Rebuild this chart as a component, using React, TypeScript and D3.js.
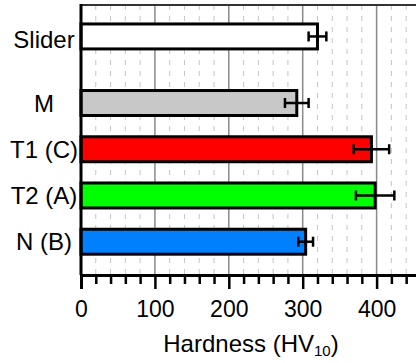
import { useEffect, useRef } from "react";
import * as d3 from "d3";

// hardness per sample, top to bottom as drawn
const samples = ["Slider", "M", "T1 (C)", "T2 (A)", "N (B)"];
const hardness = [320, 292, 393, 398, 304];
const errors = [12, 16, 24, 26, 10];
// vertical slot of each bar (Slider sits a bit apart from the rest)
const slots = [5.44, 4, 3, 2, 1];
const labelSlots = [5.38, 4, 3, 2, 1];
const fills = ["#ffffff", "#c8c8c8", "#ff0000", "#00ff00", "#0080ff"];
const majorTicks = [0, 100, 200, 300, 400];

const W = 416;
const H = 363;

export default function App() {
  const svgRef = useRef<SVGSVGElement>(null);

  useEffect(() => {
    const svg = d3.select(svgRef.current);
    svg.selectAll("*").remove();

    const left = 81;
    const top = 5;
    const bottom = 275;

    const x = d3.scaleLinear().domain([0, 460]).range([left, left + 460 * 0.739]);
    const y = d3.scaleLinear().domain([0.28, 6.12]).range([bottom, top]);
    const barH = y(0) - y(0.54);
    const font = "'Liberation Sans', Arial, sans-serif";

    const minor = d3.range(20, 460, 20).filter((v) => v % 100 !== 0);

    // minor dashed grid
    svg.append("g")
      .selectAll("line")
      .data(minor)
      .join("line")
      .attr("x1", (d) => x(d))
      .attr("x2", (d) => x(d))
      .attr("y1", top)
      .attr("y2", bottom)
      .attr("stroke", "#c4c4c4")
      .attr("stroke-width", 1)
      .attr("stroke-dasharray", "5,6");

    // major grid
    svg.append("g")
      .selectAll("line")
      .data(majorTicks.filter((v) => v > 0))
      .join("line")
      .attr("x1", (d) => x(d))
      .attr("x2", (d) => x(d))
      .attr("y1", top)
      .attr("y2", bottom)
      .attr("stroke", "#8a8a8a")
      .attr("stroke-width", 1.5);

    // top frame
    svg.append("line")
      .attr("x1", left)
      .attr("x2", W)
      .attr("y1", top)
      .attr("y2", top)
      .attr("stroke", "#333")
      .attr("stroke-width", 2);

    // bars
    svg.append("g")
      .selectAll("rect")
      .data(samples)
      .join("rect")
      .attr("x", x(0))
      .attr("y", (_, i) => y(slots[i]) - barH / 2)
      .attr("width", (_, i) => x(hardness[i]) - x(0))
      .attr("height", barH)
      .attr("fill", (_, i) => fills[i])
      .attr("stroke", "#000")
      .attr("stroke-width", 3);

    // error bars
    const eb = svg.append("g").attr("stroke", "#000").attr("stroke-width", 2.5);
    samples.forEach((_, i) => {
      const cy = y(slots[i]);
      const lo = x(hardness[i] - errors[i]);
      const hi = x(hardness[i] + errors[i]);
      eb.append("line").attr("x1", lo).attr("x2", hi).attr("y1", cy).attr("y2", cy);
      eb.append("line").attr("x1", lo).attr("x2", lo).attr("y1", cy - 5).attr("y2", cy + 5);
      eb.append("line").attr("x1", hi).attr("x2", hi).attr("y1", cy - 5).attr("y2", cy + 5);
    });

    // category labels (centred in the left margin)
    svg.append("g")
      .selectAll("text")
      .data(samples)
      .join("text")
      .attr("x", 44)
      .attr("y", (_, i) => y(labelSlots[i]) + 8.6)
      .attr("text-anchor", "middle")
      .attr("font-family", font)
      .attr("font-size", 24)
      .attr("fill", "#000")
      .text((d) => d);

    // left axis line
    svg.append("line")
      .attr("x1", left)
      .attr("x2", left)
      .attr("y1", top - 1)
      .attr("y2", bottom)
      .attr("stroke", "#000")
      .attr("stroke-width", 3);

    // bottom axis
    const ax = svg.append("g").attr("transform", `translate(0,${bottom})`);
    ax.call(
      d3.axisBottom(x)
        .tickValues(minor)
        .tickSize(9)
        .tickFormat(() => "")
    );
    ax.call((g) =>
      g.append("g").call(
        d3.axisBottom(x).tickValues(majorTicks).tickSize(14).tickFormat(d3.format("d"))
      )
    );
    ax.selectAll("path").attr("stroke", "#000").attr("stroke-width", 3);
    ax.selectAll("line").attr("stroke", "#000").attr("stroke-width", 2.5);
    ax.selectAll("text")
      .attr("font-family", font)
      .attr("font-size", 23)
      .attr("fill", "#000")
      .attr("dy", 0)
      .attr("y", 42);

    // axis title
    const t = svg.append("text")
      .attr("x", (x.range()[0] + x.range()[1]) / 2)
      .attr("y", 352)
      .attr("text-anchor", "middle")
      .attr("font-family", font)
      .attr("font-size", 24)
      .attr("fill", "#000");
    t.append("tspan").text("Hardness (HV");
    t.append("tspan").attr("font-size", 15).attr("dy", 4).text("10");
    t.append("tspan").attr("dy", -4).text(")");
  }, []);

  return (
    <svg
      ref={svgRef}
      width={W}
      height={H}
      style={{ position: "absolute", left: 0, top: 0, background: "#fff" }}
    />
  );
}
